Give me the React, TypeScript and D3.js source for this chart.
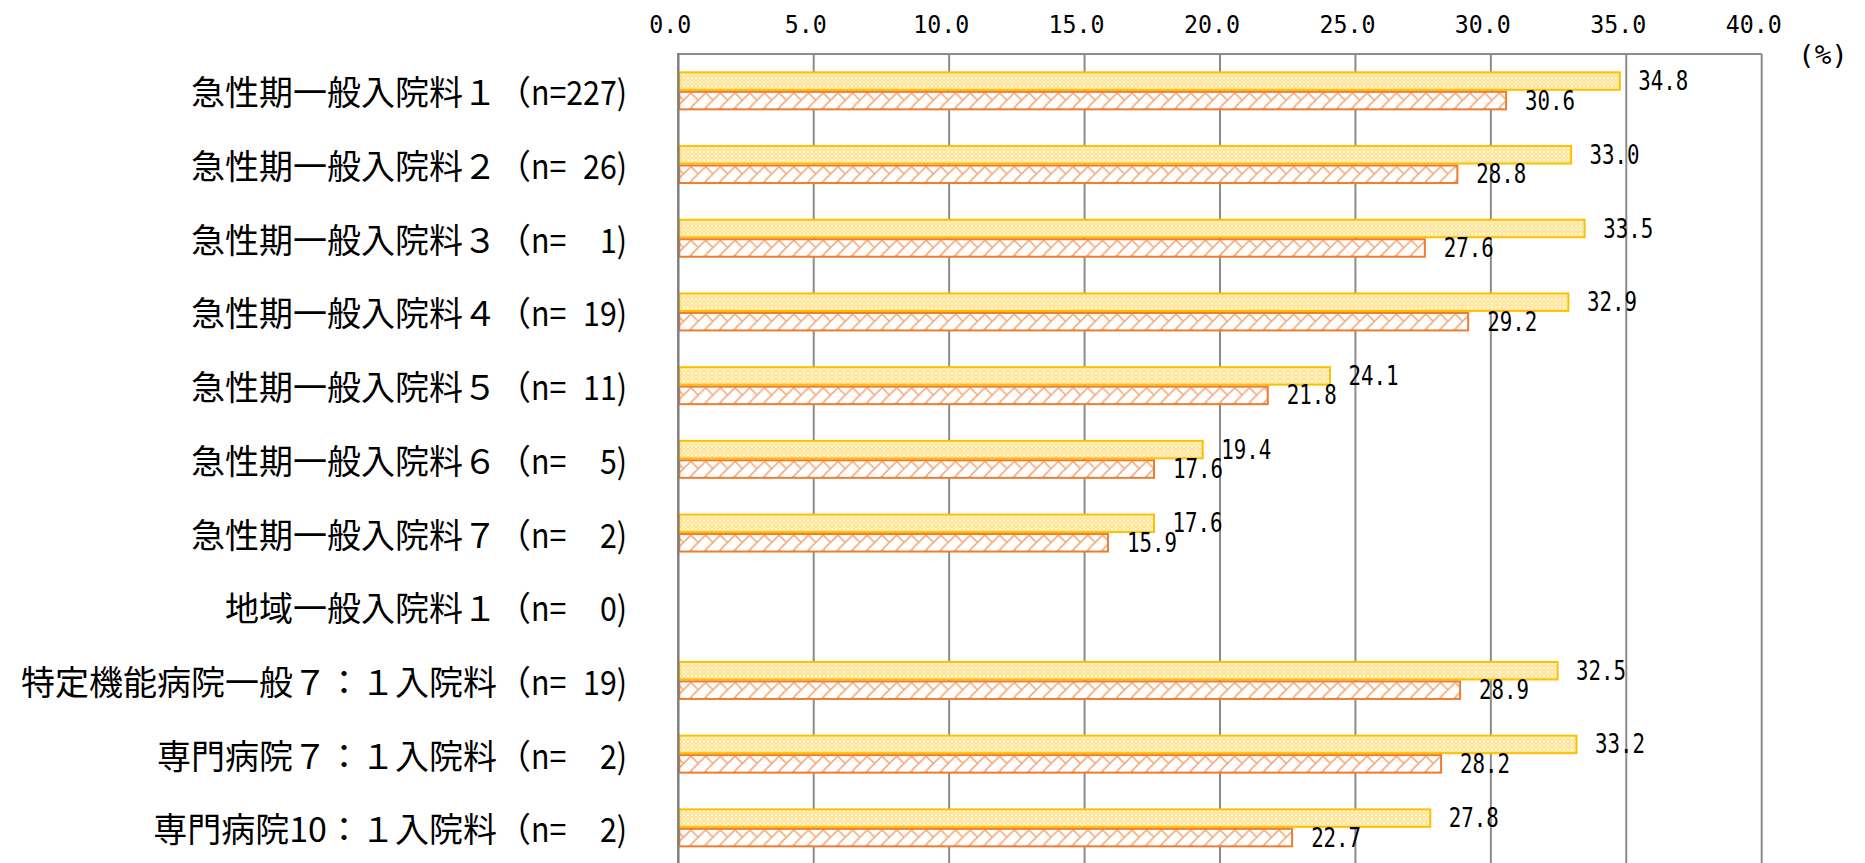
import React from "react";
import * as d3 from "d3";

const categoryNames = [
  "急性期一般入院料１",
  "急性期一般入院料２",
  "急性期一般入院料３",
  "急性期一般入院料４",
  "急性期一般入院料５",
  "急性期一般入院料６",
  "急性期一般入院料７",
  "地域一般入院料１",
  "特定機能病院一般７：１入院料",
  "専門病院７：１入院料",
  "専門病院10：１入院料",
];
const categoryN = [227, 26, 1, 19, 11, 5, 2, 0, 19, 2, 2];

const seriesA: (number | null)[] = [34.8, 33.0, 33.5, 32.9, 24.1, 19.4, 17.6, null, 32.5, 33.2, 27.8];
const seriesB: (number | null)[] = [30.6, 28.8, 27.6, 29.2, 21.8, 17.6, 15.9, null, 28.9, 28.2, 22.7];

const xTicks = [0, 5, 10, 15, 20, 25, 30, 35, 40];
const unitLabel = "(%)";

const W = 1865;
const H = 863;
const left = 678.3;
const right = 1761.7;
const top = 54;
const bottom = 864.7;

const monoFont = "'DejaVu Sans Mono', 'Liberation Mono', monospace";
const cjkFont = "'Noto Sans CJK JP', 'Noto Sans', sans-serif";

export default function App() {
  const x = d3.scaleLinear().domain([0, 40]).range([left, right]);
  const y = d3
    .scaleBand<number>()
    .domain(d3.range(categoryNames.length))
    .range([top, bottom])
    .paddingInner(0)
    .paddingOuter(0);
  const barH = 19.5;
  const fmt = d3.format(".1f");
  const P = 14.7;

  return (
    <svg
      width={W}
      height={H}
      style={{ position: "absolute", left: 0, top: 0, display: "block", background: "#fff" }}
    >
      <defs>
        <pattern id="patA" width="8" height="8" patternUnits="userSpaceOnUse" y="-1">
          <rect width="8" height="8" fill="#FFDB6E" />
          <path d="M0,4 L4,0 L8,4 L4,8 Z" fill="none" stroke="#FFFFFF" strokeOpacity="0.7" strokeWidth="1.2" />
          <path d="M4,2.2 V5.8 M2.2,4 H5.8" stroke="#fff" strokeWidth="1" strokeOpacity="0.9" />
          <circle cx="0" cy="0" r="1.3" fill="#fff" />
          <circle cx="8" cy="0" r="1.3" fill="#fff" />
          <circle cx="0" cy="8" r="1.3" fill="#fff" />
          <circle cx="8" cy="8" r="1.3" fill="#fff" />
        </pattern>
        <pattern id="patB" width={P} height={P} patternUnits="userSpaceOnUse" y="2">
          <rect width={P} height={P} fill="#FFFFFF" />
          <path
            d={`M0,${P} L${P},0 M${-P},${P} L0,0 M${P},${P} L${2 * P},0 M0,0 L${P / 2},${P / 2} M${P},0 L${P * 1.5},${P / 2}`}
            fill="none"
            stroke="#ED7D31"
            strokeOpacity="0.65"
            strokeWidth="1.6"
          />
        </pattern>
      </defs>

      {/* gridlines */}
      {xTicks.slice(1).map((t) => (
        <line key={"g" + t} x1={x(t)} x2={x(t)} y1={top} y2={H} stroke="#8C8C8C" strokeWidth={2} />
      ))}
      {/* top frame */}
      <line x1={left} x2={right} y1={top} y2={top} stroke="#8C8C8C" strokeWidth={2} />

      {/* bars */}
      {categoryNames.map((_, i) => {
        const c = (y(i) as number) + y.bandwidth() / 2;
        const a = seriesA[i];
        const b = seriesB[i];
        return (
          <g key={"b" + i}>
            {a != null && (
              <g transform={`translate(0,${c - barH})`}>
                <rect
                  x={x(0) + 1}
                  y={1}
                  width={x(a) - x(0) - 2}
                  height={barH - 2}
                  fill="url(#patA)"
                  stroke="#FFC000"
                  strokeWidth={2}
                />
              </g>
            )}
            {b != null && (
              <g transform={`translate(0,${c})`}>
                <rect
                  x={x(0) + 1}
                  y={1}
                  width={x(b) - x(0) - 2}
                  height={barH - 2}
                  fill="url(#patB)"
                  stroke="#ED7D31"
                  strokeWidth={2}
                />
              </g>
            )}
          </g>
        );
      })}

      {/* left axis */}
      <line x1={left} x2={left} y1={top - 1} y2={H} stroke="#808080" strokeWidth={2.5} />

      {/* data labels */}
      {categoryNames.map((_, i) => {
        const c = (y(i) as number) + y.bandwidth() / 2;
        const a = seriesA[i];
        const b = seriesB[i];
        return (
          <g key={"l" + i} fontFamily={monoFont} fontSize={26} fill="#000">
            {a != null && (
              <text
                x={x(a) + 17.5}
                y={c - barH / 2}
                dominantBaseline="central"
                textLength={fmt(a).length * 12.5}
                lengthAdjust="spacingAndGlyphs"
              >
                {fmt(a)}
              </text>
            )}
            {b != null && (
              <text
                x={x(b) + 18}
                y={c + barH / 2}
                dominantBaseline="central"
                textLength={fmt(b).length * 12.5}
                lengthAdjust="spacingAndGlyphs"
              >
                {fmt(b)}
              </text>
            )}
          </g>
        );
      })}

      {/* x tick labels */}
      {xTicks.map((t) => {
        const s = fmt(t);
        return (
          <text
            key={"t" + t}
            x={x(t) - 8}
            y={24}
            textAnchor="middle"
            dominantBaseline="central"
            fontFamily={monoFont}
            fontSize={25}
            textLength={s.length * 14}
            lengthAdjust="spacingAndGlyphs"
          >
            {s}
          </text>
        );
      })}
      <text
        x={1823}
        y={55}
        textAnchor="middle"
        dominantBaseline="central"
        fontFamily={monoFont}
        fontSize={26}
        textLength={50}
        lengthAdjust="spacingAndGlyphs"
      >
        {unitLabel}
      </text>

      {/* category labels */}
      {categoryNames.map((name, i) => {
        const c = (y(i) as number) + y.bandwidth() / 2;
        const nPart = "n=" + String(categoryN[i]).padStart(3, " ") + ")";
        return (
          <g key={"c" + i}>
            <text
              x={627 - 96}
              y={c}
              textAnchor="end"
              dominantBaseline="central"
              fontFamily={cjkFont}
              fontSize={34}
            >
              {name + "（"}
            </text>
            <text
              x={627}
              y={c}
              textAnchor="end"
              dominantBaseline="central"
              fontFamily={cjkFont}
              fontSize={34}
              textLength={96}
              lengthAdjust="spacingAndGlyphs"
              style={{ whiteSpace: "pre" }}
            >
              {nPart.replace(/ /g, "\u2007")}
            </text>
          </g>
        );
      })}
    </svg>
  );
}
